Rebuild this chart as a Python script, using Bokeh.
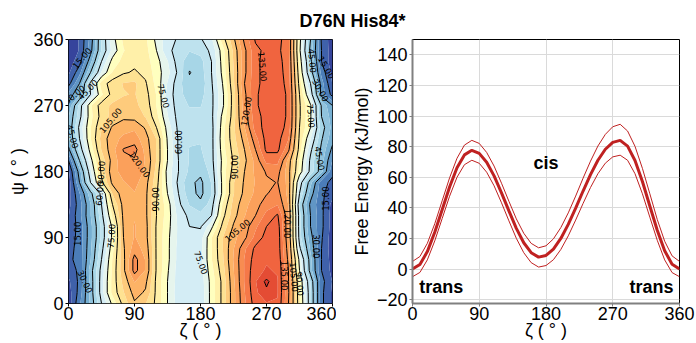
from bokeh.plotting import figure
from bokeh.layouts import column, row
from bokeh.models import Range1d, FixedTicker, Label
from bokeh.core.properties import value
from bokeh.embed import file_html
from bokeh.resources import INLINE

# ---------------- data ----------------
zeta_grid = [0, 15, 30, 45, 60, 75, 90, 105, 120, 135, 150, 165, 180,
             195, 210, 225, 240, 255, 270, 285, 300, 315, 330, 345, 360]
psi_grid = [0, 15, 30, 45, 60, 75, 90, 105, 120, 135, 150, 165, 180,
            195, 210, 225, 240, 255, 270, 285, 300, 315, 330, 345, 360]

# free energy surface, one row per psi value (kJ/mol)
fes_psi000 = [3, 21, 39, 60, 77, 93, 104, 98, 88, 75, 64, 61, 62, 78, 92, 110, 126, 139, 142, 142, 120, 84, 54, 17, 6]
fes_psi015 = [4, 18, 40, 64, 85, 97, 108, 104, 88, 75, 63, 61, 62, 78, 92, 110, 127, 141, 148, 143, 121, 83, 54, 17, 6]
fes_psi030 = [6, 17, 40, 64, 85, 100, 113, 107, 88, 75, 64, 61, 63, 78, 92, 111, 128, 142, 152, 143, 120, 82, 52, 18, 7]
fes_psi045 = [10, 17, 41, 63, 84, 103, 123, 112, 89, 76, 64, 61, 64, 80, 94, 112, 128, 141, 143, 142, 120, 75, 41, 15, 5]
fes_psi060 = [13, 18, 37, 60, 83, 103, 123, 112, 89, 77, 65, 61, 65, 82, 96, 113, 128, 139, 142, 141, 118, 72, 40, 15, 4]
fes_psi075 = [12, 18, 36, 57, 80, 104, 116, 110, 89, 77, 65, 62, 65, 82, 97, 112, 126, 137, 140, 140, 116, 62, 36, 15, 3]
fes_psi090 = [10, 18, 35, 54, 77, 105, 113, 108, 89, 77, 66, 62, 64, 82, 97, 110, 118, 130, 138, 140, 114, 56, 33, 16, 3]
fes_psi105 = [9, 18, 35, 54, 77, 106, 113, 108, 89, 78, 66, 60, 59, 73, 92, 106, 116, 126, 135, 139, 114, 55, 30, 17, 4]
fes_psi120 = [7, 20, 37, 57, 84, 107, 112, 107, 90, 79, 65, 58, 55, 60, 87, 102, 112, 120, 130, 136, 114, 55, 30, 17, 4]
fes_psi135 = [5, 19, 37, 60, 90, 108, 111, 107, 90, 79, 62, 52, 47, 56, 83, 100, 110, 117, 124, 127, 112, 52, 28, 17, 5]
fes_psi150 = [4, 22, 42, 63, 98, 110, 112, 107, 91, 75, 60, 48, 43, 52, 77, 97, 107, 114, 119.5, 123, 110, 60, 34, 17, 10]
fes_psi165 = [3, 30, 60, 88, 107, 112, 115, 108, 93, 73, 58, 47, 43, 53, 77, 97, 106, 113, 118.5, 120.3, 110, 65, 40, 18, 13]
fes_psi180 = [6, 34, 66, 92, 110, 115, 118, 111, 95, 72, 60, 51, 47, 55, 78, 93, 105, 114, 121, 123, 108, 80, 57, 40, 17]
fes_psi195 = [15, 45, 72, 93, 108, 118, 119, 112, 97, 75, 60, 52, 50, 57, 77, 91, 103, 115, 130, 130, 110, 82, 58, 41, 22]
fes_psi210 = [28, 55, 78, 98, 110, 120.5, 123, 110, 97, 75, 59, 52, 52, 57, 79, 93, 105, 120, 137, 137, 122, 86, 62, 43, 28]
fes_psi225 = [36, 60, 82, 100, 110, 114, 116, 108, 97, 74, 59, 54, 53, 57, 80, 95, 108, 125, 138, 138, 128, 88, 68, 46, 33]
fes_psi240 = [38, 62, 82, 97, 106, 110, 111, 104, 90, 72, 58, 55, 54, 57, 79, 96, 112, 131, 138, 138, 133, 90, 75, 49, 35]
fes_psi255 = [37, 57, 80, 93, 100, 103, 102, 97, 85, 68, 57, 55, 55, 58, 77, 94, 116, 132, 138, 138, 134, 91, 76, 45, 34]
fes_psi270 = [32, 55, 81, 94, 99, 100, 99, 95, 82, 66, 56, 52, 52, 58, 73, 94, 117, 134, 138, 138, 134, 91, 76, 44, 30]
fes_psi285 = [25, 37, 60, 81, 93, 97, 98, 93, 82, 65, 55, 49, 50, 58, 73, 94, 118, 134, 138, 138, 134, 90, 66, 27, 12]
fes_psi300 = [12, 30, 62, 86, 94, 98, 99, 91, 80, 67, 55, 47, 48, 59, 75, 96, 120, 133, 138, 138, 133, 86, 60, 26, 7]
fes_psi315 = [6, 20, 45, 68, 83, 89, 91, 88, 79, 70, 58, 44.5, 49, 60, 77, 97, 118, 133, 138, 138, 132, 83, 50, 20, 5]
fes_psi330 = [3, 12, 35, 60, 78, 85, 88, 86, 78, 68, 56, 48, 50, 60, 78, 98, 118, 133, 138, 138, 131, 80, 48, 15, 3]
fes_psi345 = [2, 8, 27, 53, 70, 82, 87, 85, 75, 62, 57, 53, 55, 62, 79, 99, 118, 133, 137, 137, 130, 77, 42, 15, 3]
fes_psi360 = [3, 8, 25, 53, 72, 84, 89, 84, 73, 63, 59, 58, 59, 66, 86, 103, 122, 136, 138, 138, 130, 78, 45, 14, 3]

fes_rows = [fes_psi000, fes_psi015, fes_psi030, fes_psi045, fes_psi060, fes_psi075,
            fes_psi090, fes_psi105, fes_psi120, fes_psi135, fes_psi150, fes_psi165,
            fes_psi180, fes_psi195, fes_psi210, fes_psi225, fes_psi240, fes_psi255,
            fes_psi270, fes_psi285, fes_psi300, fes_psi315, fes_psi330, fes_psi345,
            fes_psi360]

fill_levels = [0, 7.5, 15, 22.5, 30, 37.5, 45, 52.5, 60, 67.5, 75, 82.5, 90, 97.5,
               105, 112.5, 120, 127.5, 135, 142.5, 150, 157.5, 165]
line_levels = [15, 30, 45, 60, 75, 90, 105, 120, 135, 150]

# inline contour labels: text, zeta, psi, rotation (deg)
clabel_text = ["15.00", "30.00", "45.00", "45.00", "15.00", "30.00", "60.00", "75.00",
               "90.00", "105.00", "120.00", "75.00", "60.00", "90.00", "75.00", "105.00",
               "90.00", "120.00", "135.00", "120.00", "135.00", "105.00", "90.00",
               "45.00", "15.00", "30.00", "75.00", "45.00", "15.00", "30.00"]
clabel_zeta = [18, 8, 26, 6, 12, 23, 42, 58, 44, 57, 97, 130, 150, 118, 181, 230,
               226, 242, 265, 298, 295, 308, 316, 333, 352, 344, 331, 343, 350, 338]
clabel_psi = [335, 285, 292, 228, 95, 30, 150, 92, 178, 250, 190, 283, 220, 142, 56, 100,
              186, 262, 323, 109, 38, 36, 27, 331, 322, 291, 256, 198, 143, 78]
clabel_angle = [50, 40, 45, -75, 90, -65, 85, 85, 85, 50, -55, -75, 90, 90, -70, 40,
                90, 80, -85, -90, -90, -85, -85, -85, -60, -60, -85, -80, 90, -90]

# 1D free energy profile along zeta
zeta_1d = [0, 10, 20, 30, 40, 50, 60, 70, 80, 90, 100, 110, 120, 130, 140, 150, 160, 170,
           180, 190, 200, 210, 220, 230, 240, 250, 260, 270, 280, 290, 300, 310, 320, 330,
           340, 350, 360]
fe_mean = [0, 3.0, 11.4, 24.0, 38.8, 53.6, 66.2, 74.6, 77.6, 75.6, 69.8, 60.9, 49.8, 38.0,
           26.6, 17.2, 10.7, 7.8, 8.9, 13.0, 20.0, 29.2, 39.8, 51.0, 61.7, 71.1, 78.3, 82.8,
           84.1, 80.3, 70.9, 57.2, 41.2, 25.4, 12.0, 3.1, 0]
fe_upper = [5.0, 8.2, 16.8, 29.6, 44.6, 59.6, 72.4, 81.0, 84.1, 82.1, 76.2, 67.3, 56.1, 44.3,
            32.8, 23.4, 16.8, 13.9, 15.2, 19.7, 27.1, 36.7, 47.7, 59.4, 70.5, 80.4, 88.0, 93.0,
            94.6, 90.2, 80.2, 65.8, 49.2, 32.4, 18.2, 8.6, 5.0]
fe_lower = [-5.0, -2.2, 6.0, 18.4, 33.0, 47.6, 60.0, 68.2, 71.1, 69.1, 63.3, 54.4, 43.3, 31.5,
            20.1, 10.7, 4.2, 1.3, 2.3, 6.1, 12.8, 21.7, 32.0, 42.9, 53.3, 62.3, 69.2, 73.3,
            74.4, 71.1, 62.3, 49.2, 33.9, 18.8, 6.0, -2.3, -5.0]

state_text = ["cis", "trans", "trans"]
state_zeta = [180, 9, 352]
state_fe = [69, -12, -12]
state_align = ["center", "left", "right"]

angle_ticks = [0, 90, 180, 270, 360]
fe_ticks = [-20, 0, 20, 40, 60, 80, 100, 120, 140]

# ---------------- styling helpers ----------------
FONT = "Liberation Sans"
RDYLBU_R = ["#313695", "#4575b4", "#74add1", "#abd9e9", "#e0f3f8", "#ffffbf",
            "#fee090", "#fdae61", "#f46d43", "#d73027", "#a50026"]
# piecewise mapping of energy -> position on the colour map
CMAP_E = [0, 41.25, 71.25, 78.75, 108.75, 138.75, 165]
CMAP_T = [0, 0.25, 0.42, 0.5, 0.69, 0.815, 0.95]


def cmap(t):
    t = min(max(t, 0.0), 1.0) * (len(RDYLBU_R) - 1)
    i = min(int(t), len(RDYLBU_R) - 2)
    f = t - i
    a = RDYLBU_R[i]
    b = RDYLBU_R[i + 1]
    ca = [int(a[k:k + 2], 16) for k in (1, 3, 5)]
    cb = [int(b[k:k + 2], 16) for k in (1, 3, 5)]
    c = [round(ca[k] + (cb[k] - ca[k]) * f) for k in range(3)]
    return "#%02x%02x%02x" % tuple(c)


def energy_to_t(e):
    for k in range(len(CMAP_E) - 1):
        if e <= CMAP_E[k + 1]:
            f = (e - CMAP_E[k]) / (CMAP_E[k + 1] - CMAP_E[k])
            return CMAP_T[k] + f * (CMAP_T[k + 1] - CMAP_T[k])
    return CMAP_T[-1]


palette = [cmap(energy_to_t(0.5 * (fill_levels[i] + fill_levels[i + 1])))
           for i in range(len(fill_levels) - 1)]


def style_axes(p, tick_color="black"):
    for ax in (p.xaxis, p.yaxis):
        ax.major_label_text_font = FONT
        ax.major_label_text_font_size = "18px"
        ax.major_label_text_color = "black"
        ax.axis_label_text_font = FONT
        ax.axis_label_text_font_size = "18px"
        ax.axis_label_text_font_style = "normal"
        ax.axis_label_text_color = "black"
        ax.minor_tick_line_color = None
        ax.major_tick_in = 0
        ax.major_tick_out = 3
        ax.major_tick_line_color = tick_color
    p.yaxis.major_label_standoff = 2
    p.yaxis.axis_label_standoff = 2
    p.xaxis.major_label_standoff = 0
    p.xaxis.axis_label_standoff = -3


# ---------------- title strip ----------------
tf = figure(width=696, height=29, x_range=(0, 1), y_range=(0, 1), toolbar_location=None,
            output_backend="svg", x_axis_type=None, y_axis_type=None, min_border=0,
            outline_line_color=None, title=None)
tf.add_layout(Label(x=352, y=9, x_units="screen", y_units="screen", text="D76N His84*",
                    text_font=FONT, text_font_size="18px", text_font_style="bold",
                    text_align="center", text_baseline="middle", text_color="black"))

# ---------------- left: 2D free energy surface ----------------
p1 = figure(width=336, height=314, x_range=Range1d(0, 360), y_range=Range1d(0, 360),
            toolbar_location=None, output_backend="svg",
            min_border_left=68, min_border_right=4, min_border_top=10, min_border_bottom=40)
p1.contour(zeta_grid, psi_grid, fes_rows, fill_levels, fill_color=palette)
p1.contour(zeta_grid, psi_grid, fes_rows, line_levels, line_color="black", line_width=1)
p1.text(x=clabel_zeta, y=clabel_psi, text=clabel_text, angle=clabel_angle, angle_units="deg",
        text_font=value("DejaVu Sans"), text_font_size="8.5px", text_color="black",
        text_align="center", text_baseline="middle")
p1.grid.visible = False
p1.outline_line_color = "black"
p1.outline_line_width = 1
p1.xaxis.ticker = FixedTicker(ticks=angle_ticks)
p1.yaxis.ticker = FixedTicker(ticks=angle_ticks)
style_axes(p1)
p1.xaxis.axis_line_color = None
p1.yaxis.axis_line_color = None
p1.yaxis.axis_label = "ψ ( ° )"
p1.xaxis.axis_label = "ζ ( ° )"

# ---------------- right: 1D profile ----------------
p2 = figure(width=360, height=314, x_range=Range1d(0, 360), y_range=Range1d(-22.5, 150),
            toolbar_location=None, output_backend="svg",
            min_border_left=76, min_border_right=17, min_border_top=9, min_border_bottom=40)
line_red = "#bf2121"
p2.line(zeta_1d, fe_upper, line_color=line_red, line_width=1)
p2.line(zeta_1d, fe_lower, line_color=line_red, line_width=1)
p2.line(zeta_1d, fe_mean, line_color=line_red, line_width=3)
for t, zx, fy, al in zip(state_text, state_zeta, state_fe, state_align):
    p2.text(x=[zx], y=[fy], text=[t], text_font=value(FONT), text_font_size="18px",
            text_font_style="bold", text_align=al, text_baseline="middle", text_color="black")
p2.xaxis.ticker = FixedTicker(ticks=angle_ticks)
p2.yaxis.ticker = FixedTicker(ticks=fe_ticks)
p2.xgrid.ticker = FixedTicker(ticks=angle_ticks)
p2.ygrid.ticker = FixedTicker(ticks=fe_ticks)
p2.grid.grid_line_color = "#dadada"
p2.grid.grid_line_width = 1
p2.outline_line_color = "black"
p2.outline_line_width = 1
style_axes(p2, tick_color="#808080")
p2.xaxis.axis_line_color = "#808080"
p2.yaxis.axis_line_color = "#808080"
p2.xaxis.axis_line_width = 2
p2.yaxis.axis_line_width = 2
p2.yaxis.axis_label = "Free Energy (kJ/mol)"
p2.xaxis.axis_label = "ζ ( ° )"

layout = column(tf, row(p1, p2))
open("out.html", "w").write(file_html(layout, INLINE))
